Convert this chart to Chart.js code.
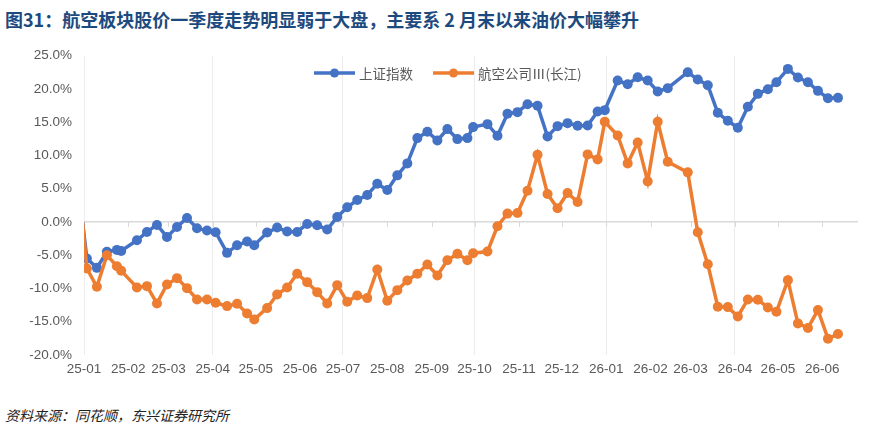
<!DOCTYPE html>
<html>
<head>
<meta charset="utf-8">
<script src="https://cdn.jsdelivr.net/npm/chart.js@4.4.1/dist/chart.umd.min.js"></script>
<style>
  html, body { margin: 0; padding: 0; background: #fff; }
  body { width: 886px; height: 424px; position: relative; overflow: hidden; }
  #title { position: absolute; left: 5px; top: 6px; line-height: 18px; font: bold 18px "Noto Sans CJK SC", sans-serif; color: #1d4a7e; white-space: nowrap; }
  #source { position: absolute; left: 5px; top: 405px; line-height: 14px; font: italic 14px "Noto Sans CJK SC", sans-serif; color: #222; white-space: nowrap; }
  #wrap { position: absolute; left: 0; top: 40px; width: 886px; height: 345px; }
</style>
</head>
<body>
<div id="title">图31：航空板块股价一季度走势明显弱于大盘，主要系 2 月末以来油价大幅攀升</div>
<div id="wrap"><canvas id="lineChart"></canvas></div>
<div id="source">资料来源：同花顺，东兴证券研究所</div>
<script>
// weekly closes, cumulative change vs 2024-12-31 (%)
const dates = [
    '2024-12-31',
    '2025-01-03', '2025-01-10', '2025-01-17', '2025-01-24', '2025-01-27',
    '2025-02-07', '2025-02-14', '2025-02-21', '2025-02-28',
    '2025-03-07', '2025-03-14', '2025-03-21', '2025-03-28',
    '2025-04-03', '2025-04-11', '2025-04-18', '2025-04-25', '2025-04-30',
    '2025-05-09', '2025-05-16', '2025-05-23', '2025-05-30',
    '2025-06-06', '2025-06-13', '2025-06-20', '2025-06-27',
    '2025-07-04', '2025-07-11', '2025-07-18', '2025-07-25',
    '2025-08-01', '2025-08-08', '2025-08-15', '2025-08-22', '2025-08-29',
    '2025-09-05', '2025-09-12', '2025-09-19', '2025-09-26', '2025-09-30',
    '2025-10-10', '2025-10-17', '2025-10-24', '2025-10-31',
    '2025-11-07', '2025-11-14', '2025-11-21', '2025-11-28',
    '2025-12-05', '2025-12-12', '2025-12-19', '2025-12-26', '2025-12-31',
    '2026-01-09', '2026-01-16', '2026-01-23', '2026-01-30',
    '2026-02-06', '2026-02-13', '2026-02-27',
    '2026-03-06', '2026-03-13', '2026-03-20', '2026-03-27',
    '2026-04-03', '2026-04-10', '2026-04-17', '2026-04-24', '2026-04-30',
    '2026-05-08', '2026-05-15', '2026-05-22', '2026-05-29',
    '2026-06-05', '2026-06-12'
];

const shIndex = [
    0,
    -5.5, -6.9, -4.5, -4.2, -4.35, -2.75, -1.5, -0.45, -2.25, -0.75,
    0.6, -0.95, -1.3, -1.55, -4.65, -3.5, -2.95, -3.5, -1.6, -0.85,
    -1.45, -1.5, -0.3, -0.5, -1.15, 0.75, 2.2, 3.3, 4.05, 5.75,
    4.8, 7.0, 8.8, 12.6, 13.55, 12.25, 13.95, 12.45, 12.6, 14.25,
    14.7, 12.95, 16.25, 16.5, 17.7, 17.45, 12.85, 14.4, 14.85, 14.45,
    14.5, 16.6, 16.8, 21.25, 20.7, 21.75, 21.25, 19.6, 20.1, 22.5,
    21.4, 20.55, 16.4, 15.2, 14.15, 17.3, 19.25, 19.95, 21.0, 23.0,
    21.7, 21.0, 19.7, 18.6, 18.65
];

const airlines = [
    0,
    -7.0, -9.75, -5.0, -6.65, -7.35, -9.85, -9.65, -12.25, -9.4, -8.45,
    -9.95, -11.65, -11.65, -12.15, -12.65, -12.3, -13.75, -14.65, -12.95, -10.9,
    -9.85, -7.8, -9.05, -10.55, -12.25, -9.5, -12.0, -11.05, -11.45, -7.15,
    -11.85, -10.25, -8.8, -7.8, -6.4, -8.05, -5.75, -4.8, -5.75, -4.7,
    -4.45, -0.65, 1.25, 1.35, 4.7, 10.1, 4.2, 2.05, 4.35, 3.0,
    10.15, 9.4, 15.05, 13.0, 8.8, 11.95, 6.1, 15.05, 9.05, 7.45,
    -1.55, -6.35, -12.75, -12.8, -14.2, -11.65, -11.7, -12.85, -13.5, -8.75,
    -15.25, -15.95, -13.25, -17.55, -16.85
];

const seriesNames = ['上证指数', '航空公司Ⅲ(长江)'];
const monthLabels = ['25-01', '25-02', '25-03', '25-04', '25-05', '25-06', '25-07', '25-08', '25-09',
    '25-10', '25-11', '25-12', '26-01', '26-02', '26-03', '26-04', '26-05', '26-06'];

// x axis works in days from 2025-01-01
const origin = Date.parse('2025-01-01');
const dayOf = s => (Date.parse(s) - origin) / 86400000;
const monthDays = monthLabels.map(m => dayOf('20' + m + '-01'));

const toPoints = vals => dates.map((d, i) => ({ x: dayOf(d), y: vals[i] }));
const radii = dates.map((d, i) => i === 0 ? 0 : 5);

// small tick marks on the zero line at each month
const zeroTicks = {
    id: 'zeroTicks',
    beforeDatasetsDraw(chart) {
        const { ctx, scales: { x, y } } = chart;
        const y0 = y.getPixelForValue(0);
        ctx.save();
        ctx.strokeStyle = '#d9d9d9';
        ctx.lineWidth = 1;
        x.ticks.forEach(t => {
            const px = Math.round(x.getPixelForValue(t.value)) + 0.5;
            ctx.beginPath();
            ctx.moveTo(px, y0);
            ctx.lineTo(px, y0 + 5);
            ctx.stroke();
        });
        ctx.restore();
    }
};

// legend sits inside the plot, line + marker sample
const innerLegend = {
    id: 'innerLegend',
    afterDraw(chart) {
        const ctx = chart.ctx;
        let x = 314;
        const y = 33;
        ctx.save();
        ctx.font = '13.5px "Noto Sans CJK SC", sans-serif';
        ctx.textBaseline = 'middle';
        chart.data.datasets.forEach(ds => {
            ctx.strokeStyle = ds.borderColor;
            ctx.lineWidth = 3.5;
            ctx.beginPath();
            ctx.moveTo(x, y);
            ctx.lineTo(x + 41, y);
            ctx.stroke();
            ctx.fillStyle = ds.borderColor;
            ctx.beginPath();
            ctx.arc(x + 20.5, y, 4.5, 0, Math.PI * 2);
            ctx.fill();
            ctx.fillStyle = '#595959';
            ctx.fillText(ds.label, x + 45, y + 1);
            x += 45 + ctx.measureText(ds.label).width + 20;
        });
        ctx.restore();
    }
};

const tickFont = { family: '"Liberation Sans", Arial, sans-serif', size: 13.5 };

const ctx = document.getElementById('lineChart').getContext('2d');
const lineChart = new Chart(ctx, {
    type: 'line',
    data: {
        datasets: [
            {
                label: seriesNames[0],
                data: toPoints(shIndex),
                borderColor: '#4472c4',
                backgroundColor: '#4472c4',
                borderWidth: 3.5,
                pointRadius: radii,
                pointBorderWidth: 0,
                order: 1,
                clip: { left: 0, top: 6, right: 6, bottom: 6 }
            },
            {
                label: seriesNames[1],
                data: toPoints(airlines),
                borderColor: '#ed7d31',
                backgroundColor: '#ed7d31',
                borderWidth: 3.5,
                pointRadius: radii,
                pointBorderWidth: 0,
                order: 0,
                clip: { left: 0, top: 6, right: 6, bottom: 6 }
            }
        ]
    },
    options: {
        responsive: true,
        maintainAspectRatio: false,
        animation: false,
        layout: { padding: { top: 15.6, right: 28, left: 0, bottom: 0 } },
        plugins: {
            legend: { display: false },
            tooltip: { enabled: false }
        },
        scales: {
            x: {
                type: 'linear',
                min: 0,
                max: 541,
                afterBuildTicks: scale => { scale.ticks = monthDays.map(v => ({ value: v })); },
                afterFit: scale => { scale.height = 30; },
                ticks: {
                    autoSkip: false,
                    maxRotation: 0,
                    padding: 6,
                    color: '#595959',
                    font: tickFont,
                    callback: (v, i) => monthLabels[i]
                },
                grid: {
                    drawTicks: false,
                    lineWidth: 1,
                    color: c => (c.index % 3 === 0) ? '#ececec' : 'rgba(0,0,0,0)'
                },
                border: { display: false }
            },
            y: {
                min: -20,
                max: 25,
                afterFit: scale => { scale.width = 84; },
                ticks: {
                    stepSize: 5,
                    padding: 0,
                    color: '#595959',
                    font: tickFont,
                    callback: v => v.toFixed(1) + '%'
                },
                grid: {
                    drawTicks: true,
                    tickLength: 12,
                    tickColor: 'rgba(0,0,0,0)',
                    lineWidth: 1.5,
                    color: c => (c.tick && c.tick.value === 0) ? '#d9d9d9' : 'rgba(0,0,0,0)'
                },
                border: { display: false }
            }
        }
    },
    plugins: [zeroTicks, innerLegend]
});
</script>
</body>
</html>
